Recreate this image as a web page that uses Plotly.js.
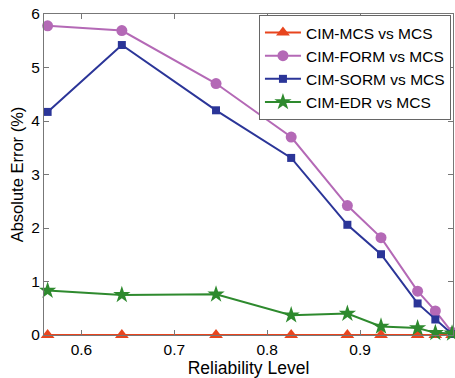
<!DOCTYPE html>
<html>
<head>
<meta charset="utf-8">
<script src="https://cdn.plot.ly/plotly-3.0.1.min.js"></script>
<style>html,body{margin:0;padding:0;background:#fff;}#chart{width:455px;height:378px;}</style>
</head>
<body>
<div id="chart"></div>
<script>
const reliability = [0.5636, 0.6435, 0.7449, 0.8258, 0.8863, 0.9225, 0.9619, 0.9810, 0.9990];
const cimMcs  = [0, 0, 0, 0, 0, 0, 0, 0, 0];
const cimForm = [5.78, 5.69, 4.70, 3.70, 2.42, 1.82, 0.82, 0.45, 0.05];
const cimSorm = [4.17, 5.42, 4.20, 3.31, 2.06, 1.51, 0.59, 0.29, 0.02];
const cimEdr  = [0.83, 0.75, 0.76, 0.37, 0.40, 0.16, 0.13, 0.04, 0.03];
const seriesNames = ['CIM-MCS vs MCS', 'CIM-FORM vs MCS', 'CIM-SORM vs MCS', 'CIM-EDR vs MCS'];
const xTicks = [0.6, 0.7, 0.8, 0.9, 1];
const xTickLabels = ['0.6', '0.7', '0.8', '0.9', '1'];
const yTicks = [0, 1, 2, 3, 4, 5, 6];

const font = 'Liberation Sans, Arial, Helvetica, sans-serif';
const mk = (y, name, color, symbol, size) => ({
  x: reliability, y: y, name: name, type: 'scatter', mode: 'lines+markers',
  line: {color: color, width: 2},
  marker: {color: color, symbol: symbol, size: size, line: {width: 0}},
  cliponaxis: false
});
const traces = [
  mk(cimMcs, seriesNames[0], '#E8451E', 'triangle-up', 12),
  mk(cimForm, seriesNames[1], '#B469B6', 'circle', 11),
  mk(cimSorm, seriesNames[2], '#2B3598', 'square', 8),
  mk(cimEdr, seriesNames[3], '#2E8A2E', 'star', 13)
];
const layout = {
  width: 455, height: 378,
  margin: {l: 44, r: 2, t: 14, b: 43},
  paper_bgcolor: '#fff', plot_bgcolor: '#fff',
  font: {family: font, size: 15, color: '#000'},
  showlegend: true,
  legend: {x: 0.995, y: 0.997, xanchor: 'right', yanchor: 'top', bgcolor: '#fff',
           bordercolor: '#666', borderwidth: 1, font: {family: font, size: 15.5},
           tracegroupgap: 0, itemwidth: 36},
  xaxis: {range: [0.5597, 1.0], tickvals: xTicks, ticktext: xTickLabels,
          ticks: 'inside', ticklen: 5, tickcolor: '#777', showgrid: false, zeroline: false,
          showline: true, linecolor: '#777', linewidth: 1, mirror: 'ticks',
          tickfont: {family: font, size: 15.5},
          title: {text: 'Reliability Level', font: {family: font, size: 17.5}, standoff: 5}},
  yaxis: {range: [0, 6], tickvals: yTicks,
          ticks: 'inside', ticklen: 5, tickcolor: '#777', showgrid: false, zeroline: false,
          showline: true, linecolor: '#777', linewidth: 1, mirror: 'ticks',
          tickfont: {family: font, size: 15.5},
          title: {text: 'Absolute Error (%)', font: {family: font, size: 16.5}, standoff: 3}}
};
Plotly.newPlot('chart', traces, layout, {displayModeBar: false, staticPlot: true});
</script>
</body>
</html>
